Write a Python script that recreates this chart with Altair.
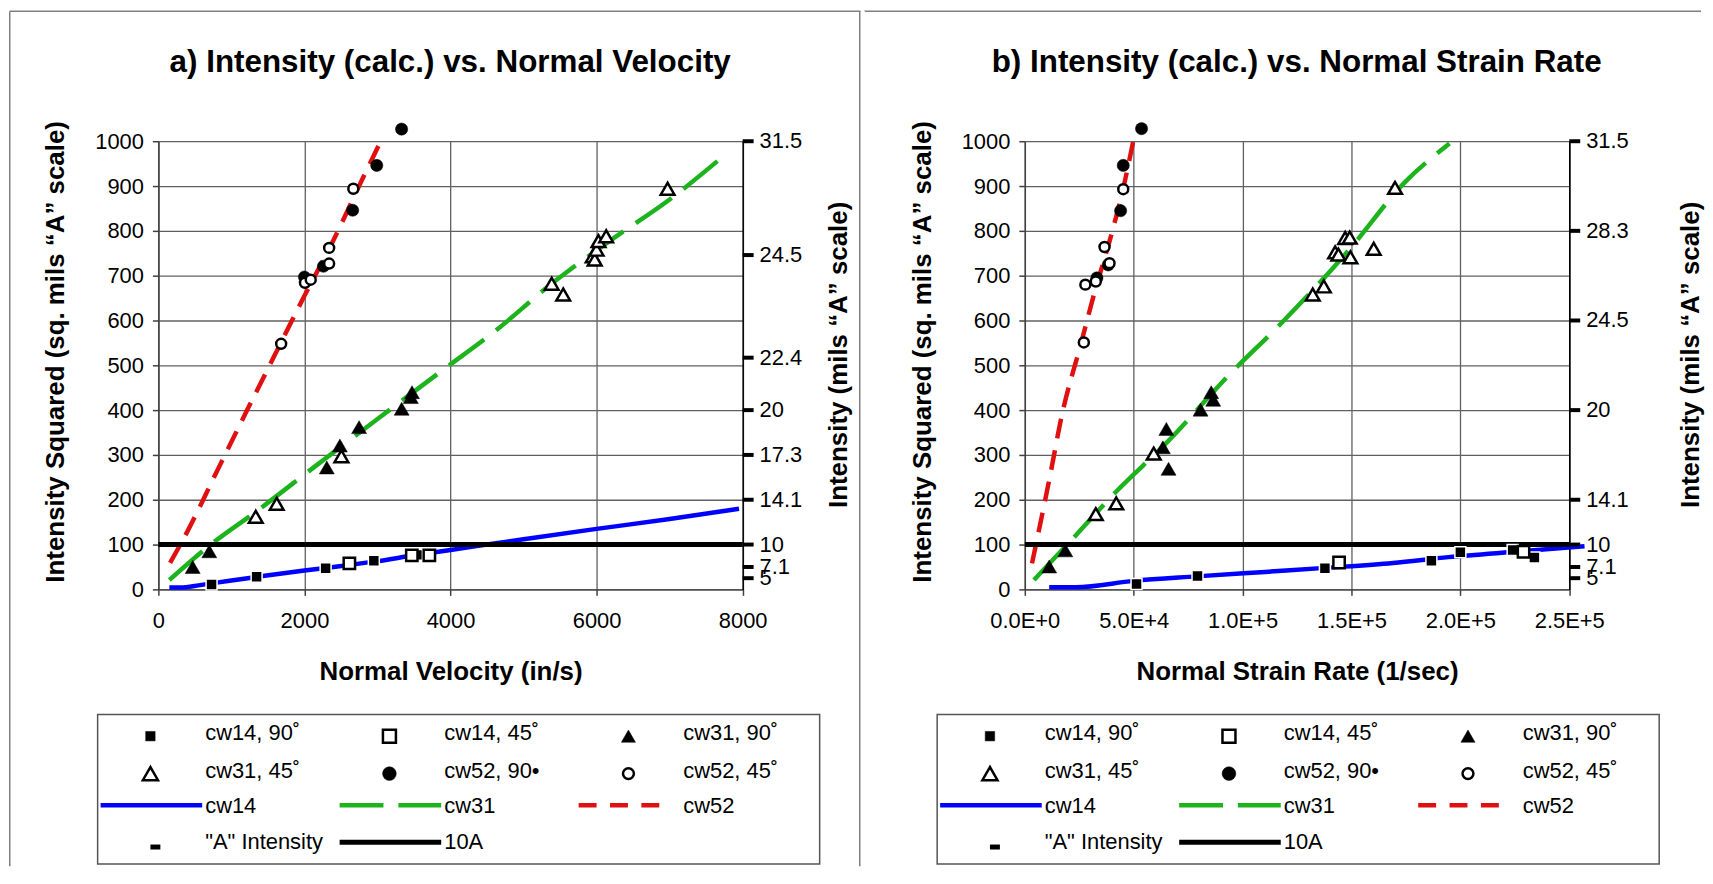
import altair as alt
import pandas as pd

FONT = "Liberation Sans"
DG = "\u02da"

BLUE = "#0000ff"
GREEN = "#1db31d"
RED = "#e01010"
GRID = "#606060"
AXC = "#404040"

# ---------------- panel a : Normal Velocity ----------------
A_TITLE = "a) Intensity (calc.) vs. Normal Velocity"
A_XTITLE = "Normal Velocity (in/s)"
A_XTICKS = [0, 2000, 4000, 6000, 8000]

A_CW14_90_X = [728, 1345, 2290, 2950, 3540]
A_CW14_90_Y = [11, 28, 47, 64, 77]
A_CW14_45_X = [2615, 3470, 3710]
A_CW14_45_Y = [58, 76, 76]
A_CW31_90_X = [470, 697, 2306, 2485, 2748, 3331, 3457, 3473]
A_CW31_90_Y = [50, 85, 272, 321, 362, 403, 429, 440]
A_CW31_45_X = [1333, 1620, 2506, 5385, 5543, 5947, 5974, 6000, 6026, 6131, 6972]
A_CW31_45_Y = [162, 191, 297, 682, 658, 743, 736, 758, 777, 788, 894]
A_CW52_90_X = [2000, 2260, 2660, 2990, 3330]
A_CW52_90_Y = [697, 721, 846, 946, 1027]
A_CW52_45_X = [1681, 2007, 2086, 2338, 2338, 2669]
A_CW52_45_Y = [548, 684, 691, 727, 762, 894]

A_FIT14_X = [150, 380, 550, 750, 1000, 1400, 2000, 2400, 3000, 3500, 4000, 5000, 6000, 7000, 7950]
A_FIT14_Y = [4, 5, 9, 14, 20, 29, 42, 50, 63, 76, 88, 112, 135, 157, 180]
A_FIT31_X = [150, 700, 1350, 2150, 3000, 3900, 4600, 5400, 6200, 7000, 7760]
A_FIT31_Y = [21, 98, 175, 275, 380, 490, 575, 684, 780, 870, 970]
A_FIT52_X = [160, 400, 800, 1200, 1600, 2000, 2400, 2800, 3060]
A_FIT52_Y = [59, 130, 263, 395, 525, 655, 780, 918, 1005]

A_AINT_LAB = ["31.5", "24.5", "22.4", "20", "17.3", "14.1", "10", "7.1", "5"]
A_AINT_Y = [1000, 746, 517, 400, 300, 200, 100, 50, 25]

# ---------------- panel b : Normal Strain Rate ----------------
B_TITLE = "b) Intensity (calc.) vs. Normal Strain Rate"
B_XTITLE = "Normal Strain Rate (1/sec)"
B_XTICKS = [0, 50000, 100000, 150000, 200000, 250000]

B_CW14_90_X = [51300, 79300, 137800, 186700, 200000, 224000, 234000]
B_CW14_90_Y = [12, 30, 47, 64, 83, 88, 71]
B_CW14_45_X = [144300, 229000]
B_CW14_45_Y = [60, 84]
B_CW31_90_X = [11200, 18600, 66000, 63400, 65000, 80700, 85600, 86500]
B_CW31_90_Y = [51, 87, 269, 317, 358, 401, 440, 423]
B_CW31_45_X = [32600, 42000, 59200, 132200, 137300, 142500, 144000, 147100, 149200, 149500, 160200, 170000]
B_CW31_45_Y = [168, 192, 303, 658, 676, 752, 747, 784, 785, 741, 760, 896]
B_CW52_90_X = [33100, 38300, 44000, 45200, 53600]
B_CW52_90_Y = [695, 724, 845, 946, 1028]
B_CW52_45_X = [27100, 27800, 32600, 36600, 38900, 45200]
B_CW52_45_Y = [551, 680, 687, 764, 728, 893]

B_FIT14_X = [11200, 23500, 50000, 79000, 100500, 120000, 138000, 169000, 194500, 225000, 257000]
B_FIT14_Y = [5, 5, 19, 29, 36, 42, 48, 59, 72, 84, 96]
B_FIT31_X = [4200, 23500, 41900, 65500, 93500, 118000, 149500, 174000, 195000]
B_FIT31_Y = [21, 121, 218, 329, 477, 595, 761, 906, 995]
B_FIT52_X = [3300, 12100, 16500, 26100, 31300, 40100, 44500, 49700]
B_FIT52_Y = [58, 266, 377, 554, 650, 798, 880, 998]

B_AINT_LAB = ["31.5", "28.3", "24.5", "20", "14.1", "10", "7.1", "5"]
B_AINT_Y = [1000, 800, 600, 400, 200, 100, 50, 25]

TEN_A = 100

Y_TICKS = list(range(0, 1001, 100))
Y_TITLE = "Intensity Squared (sq. mils \u201cA\u201d scale)"
R_TITLE = "Intensity (mils \u201cA\u201d scale)"

LEG_LABELS = ["cw14, 90" + DG, "cw14, 45" + DG, "cw31, 90" + DG,
              "cw31, 45" + DG, "cw52, 90\u2022", "cw52, 45" + DG,
              "cw14", "cw31", "cw52", "\"A\" Intensity", "10A"]

H = 450

# marker styles: (shape, size, fill, stroke, strokeWidth)
MK = {
    "cw14_90": ("square", 121, "black", "white", 1.5),
    "cw14_45": ("square", 130, "white", "black", 2.5),
    "cw31_90": ("triangle-up", 225, "black", "black", 0.5),
    "cw31_45": ("triangle-up", 190, "white", "black", 2.5),
    "cw52_90": ("circle", 150, "black", "black", 0.5),
    "cw52_45": ("circle", 100, "white", "black", 2.5),
}
LN = {
    "cw14": (BLUE, 4.5, None),
    "cw31": (GREEN, 4.5, [44, 15]),
    "cw52": (RED, 4.5, [20, 12]),
}


def df(x, y):
    return pd.DataFrame({"x": x, "y": y})


def make_panel(P):
    W = P["W"]
    xticks = P["xticks"]
    xsc = alt.Scale(domain=[xticks[0], xticks[-1]], nice=False, zero=False)
    ysc = alt.Scale(domain=[0, 1000], nice=False, zero=False)
    one = pd.DataFrame({"d": [0]})

    xaxis_kw = dict(values=xticks, grid=True, gridColor=GRID, gridWidth=1.3,
                    domainColor=AXC, domainWidth=1.5, tickColor=AXC, tickWidth=1.5,
                    tickSize=6, labelFont=FONT, labelFontSize=22, labelColor="black",
                    labelPadding=15, labelFlush=False, labelOverlap=False,
                    title=P["xtitle"], titleFont=FONT, titleFontSize=26,
                    titleFontWeight="bold", titleColor="black", titleX=W / 2,
                    titleY=90, titleBaseline="alphabetic", titleAlign="center")
    if P.get("xexpr"):
        xaxis_kw["labelExpr"] = P["xexpr"]
    else:
        xaxis_kw["format"] = "d"
    xaxis = alt.Axis(**xaxis_kw)

    def X():
        return alt.X("x:Q", scale=xsc, axis=xaxis)

    yaxis = alt.Axis(values=Y_TICKS, grid=True, gridColor=GRID, gridWidth=1.3,
                     domainColor=AXC, domainWidth=1.5, tickColor=AXC, tickWidth=1.5,
                     tickSize=6, labelFont=FONT, labelFontSize=22, labelColor="black",
                     labelPadding=9, labelFlush=False, labelOverlap=False, format="d",
                     title=Y_TITLE, titleFont=FONT, titleFontSize=26,
                     titleFontWeight="bold", titleColor="black", titleAngle=270,
                     titleX=-103, titleY=211, titleBaseline="middle", titleAlign="center")
    raxis = alt.Axis(orient="right", labels=False, ticks=False, grid=False,
                     domain=True, domainColor="black", domainWidth=1.5,
                     title=R_TITLE, titleFont=FONT, titleFontSize=26,
                     titleFontWeight="bold", titleColor="black", titleAngle=270,
                     titleX=P["rtitle_x"], titleY=214, titleBaseline="middle",
                     titleAlign="center")

    layers = []

    # ---- panel frame ----
    fl, fr, ft, fb = P["frame"]
    layers.append(alt.Chart(one).mark_rule(color="#7f7f7f", strokeWidth=1.5).encode(
        x=alt.value(fl + 0.75), x2=alt.value(fr), y=alt.value(ft + 0.75)))
    layers.append(alt.Chart(one).mark_rule(color=P["frame_left_color"], strokeWidth=1.5).encode(
        x=alt.value(fl + 0.75), y=alt.value(ft + 0.75), y2=alt.value(fb)))
    if P["frame_right"] is not None:
        layers.append(alt.Chart(one).mark_rule(color="#7f7f7f", strokeWidth=1.5).encode(
            x=alt.value(P["frame_right"]), y=alt.value(ft + 0.75), y2=alt.value(fb)))

    # ---- fit lines ----
    first = True
    for key, (xs_, ys_) in P["fits"].items():
        color, sw, dash = LN[key]
        mk = dict(color=color, strokeWidth=sw, interpolate="monotone", strokeCap="butt")
        if dash:
            mk["strokeDash"] = dash
        yax = yaxis if first else None
        first = False
        layers.append(alt.Chart(df(xs_, ys_)).mark_line(**mk).encode(
            x=X(), y=alt.Y("y:Q", scale=ysc, axis=yax)))

    # ---- 10A line ----
    layers.append(alt.Chart(df([xticks[0], xticks[-1]], [TEN_A, TEN_A])).mark_line(
        color="black", strokeWidth=5).encode(
        x=X(), y=alt.Y("y:Q", scale=ysc, axis=None)))

    # ---- markers ----
    for key, (xs_, ys_) in P["pts"].items():
        shape, size, fill, stroke, sw = MK[key]
        layers.append(alt.Chart(df(xs_, ys_)).mark_point(
            shape=shape, size=size, filled=True, fill=fill, stroke=stroke,
            strokeWidth=sw, opacity=1).encode(
            x=X(), y=alt.Y("y:Q", scale=ysc, axis=None)))

    # ---- "A" intensity (right scale), plotted at the right edge of the x range ----
    adf = pd.DataFrame({"x": [xticks[-1]] * len(P["aint_y"]),
                        "y": P["aint_y"], "lab": P["aint_lab"]})
    layers.append(alt.Chart(adf).mark_tick(orient="horizontal", size=11, thickness=4,
                                           color="black", opacity=1, xOffset=5.5).encode(
        x=X(), y=alt.Y("y:Q", scale=ysc, axis=raxis)))
    layers.append(alt.Chart(adf).mark_text(align="left", baseline="middle", dx=17,
                                           font=FONT, fontSize=22, color="black").encode(
        x=X(), y=alt.Y("y:Q", scale=ysc, axis=None), text="lab:N"))

    # ---- chart title ----
    layers.append(alt.Chart(one).mark_text(text=P["title"], font=FONT, fontSize=31.5,
                                           fontWeight="bold", align="center",
                                           baseline="alphabetic", color="black").encode(
        x=alt.value(P["title_x"]), y=alt.value(-70)))

    # ---- legend ----
    L = P["leg_left"]
    T = 575.7
    layers.append(alt.Chart(one).mark_rect(fill="white", stroke="#555555", strokeWidth=1.5).encode(
        x=alt.value(L), x2=alt.value(L + 725), y=alt.value(T), y2=alt.value(T + 150)))
    sym_rows = [21.7, 59.3, 91, 128.3]
    txt_rows = [18.7, 56.3, 91.7, 128.3]
    sym_items = [("cw14_90", 0, 0, 90), ("cw14_45", 1, 0, 170), ("cw31_90", 2, 0, 200),
                 ("cw31_45", 0, 1, 230), ("cw52_90", 1, 1, 190), ("cw52_45", 2, 1, 120)]
    for key, c, r, size in sym_items:
        shape, _, fill, stroke, sw = MK[key]
        if key == "cw14_90":
            stroke, sw = "black", 0.5
        layers.append(alt.Chart(one).mark_point(
            shape=shape, size=size, filled=True, fill=fill, stroke=stroke,
            strokeWidth=sw, opacity=1).encode(
            x=alt.value(L + 53 + 240 * c), y=alt.value(T + sym_rows[r])))
    line_items = [("cw14", 0, 2, 102), ("cw31", 1, 2, 102), ("cw52", 2, 2, 81)]
    for key, c, r, ln in line_items:
        color, sw, dash = LN[key]
        mk = dict(color=color, strokeWidth=sw, strokeCap="butt")
        if dash:
            mk["strokeDash"] = [18, 13.5] if key == "cw52" else dash
        layers.append(alt.Chart(one).mark_rule(**mk).encode(
            x=alt.value(L + 3 + 240 * c), x2=alt.value(L + 3 + 240 * c + ln),
            y=alt.value(T + sym_rows[r])))
    layers.append(alt.Chart(one).mark_rect(color="black").encode(
        x=alt.value(L + 53), x2=alt.value(L + 63),
        y=alt.value(T + 130.5), y2=alt.value(T + 135.5)))
    layers.append(alt.Chart(one).mark_rule(color="black", strokeWidth=5, strokeCap="butt").encode(
        x=alt.value(L + 3 + 240), x2=alt.value(L + 105 + 240), y=alt.value(T + sym_rows[3])))
    positions = [(0, 0), (1, 0), (2, 0), (0, 1), (1, 1), (2, 1), (0, 2), (1, 2), (2, 2), (0, 3), (1, 3)]
    for lab, (c, r) in zip(LEG_LABELS, positions):
        layers.append(alt.Chart(one).mark_text(text=lab, font=FONT, fontSize=22, align="left",
                                               baseline="middle", color="black").encode(
            x=alt.value(L + 108 + 240 * c), y=alt.value(T + txt_rows[r])))

    return alt.layer(*layers).resolve_scale(y="independent").properties(width=W, height=H)


PA = dict(
    W=586.7, xticks=A_XTICKS, xtitle=A_XTITLE, title=A_TITLE, title_x=293,
    rtitle_x=96, leg_left=-61,
    frame=(-150, 705, -131.3, 728), frame_left_color="#7f7f7f", frame_right=704.25,
    fits={"cw14": (A_FIT14_X, A_FIT14_Y), "cw31": (A_FIT31_X, A_FIT31_Y),
          "cw52": (A_FIT52_X, A_FIT52_Y)},
    pts={"cw14_90": (A_CW14_90_X, A_CW14_90_Y), "cw14_45": (A_CW14_45_X, A_CW14_45_Y),
         "cw31_90": (A_CW31_90_X, A_CW31_90_Y), "cw31_45": (A_CW31_45_X, A_CW31_45_Y),
         "cw52_90": (A_CW52_90_X, A_CW52_90_Y), "cw52_45": (A_CW52_45_X, A_CW52_45_Y)},
    aint_y=A_AINT_Y, aint_lab=A_AINT_LAB,
)
PB = dict(
    W=546.7, xticks=B_XTICKS, xtitle=B_XTITLE, title=B_TITLE, title_x=273,
    xexpr="upper(format(datum.value, '.1e'))",
    rtitle_x=122, leg_left=-88,
    frame=(-162, 679, -131.3, 728), frame_left_color="white", frame_right=None,
    fits={"cw14": (B_FIT14_X, B_FIT14_Y), "cw31": (B_FIT31_X, B_FIT31_Y),
          "cw52": (B_FIT52_X, B_FIT52_Y)},
    pts={"cw14_90": (B_CW14_90_X, B_CW14_90_Y), "cw14_45": (B_CW14_45_X, B_CW14_45_Y),
         "cw31_90": (B_CW31_90_X, B_CW31_90_Y), "cw31_45": (B_CW31_45_X, B_CW31_45_Y),
         "cw52_90": (B_CW52_90_X, B_CW52_90_Y), "cw52_45": (B_CW52_45_X, B_CW52_45_Y)},
    aint_y=B_AINT_Y, aint_lab=B_AINT_LAB,
)

chart = alt.hconcat(make_panel(PA), make_panel(PB), spacing=0, padding=0,
                    background="white").configure_view(stroke="transparent")

chart.save("out.html", embed_options={"renderer": "svg", "actions": False})
